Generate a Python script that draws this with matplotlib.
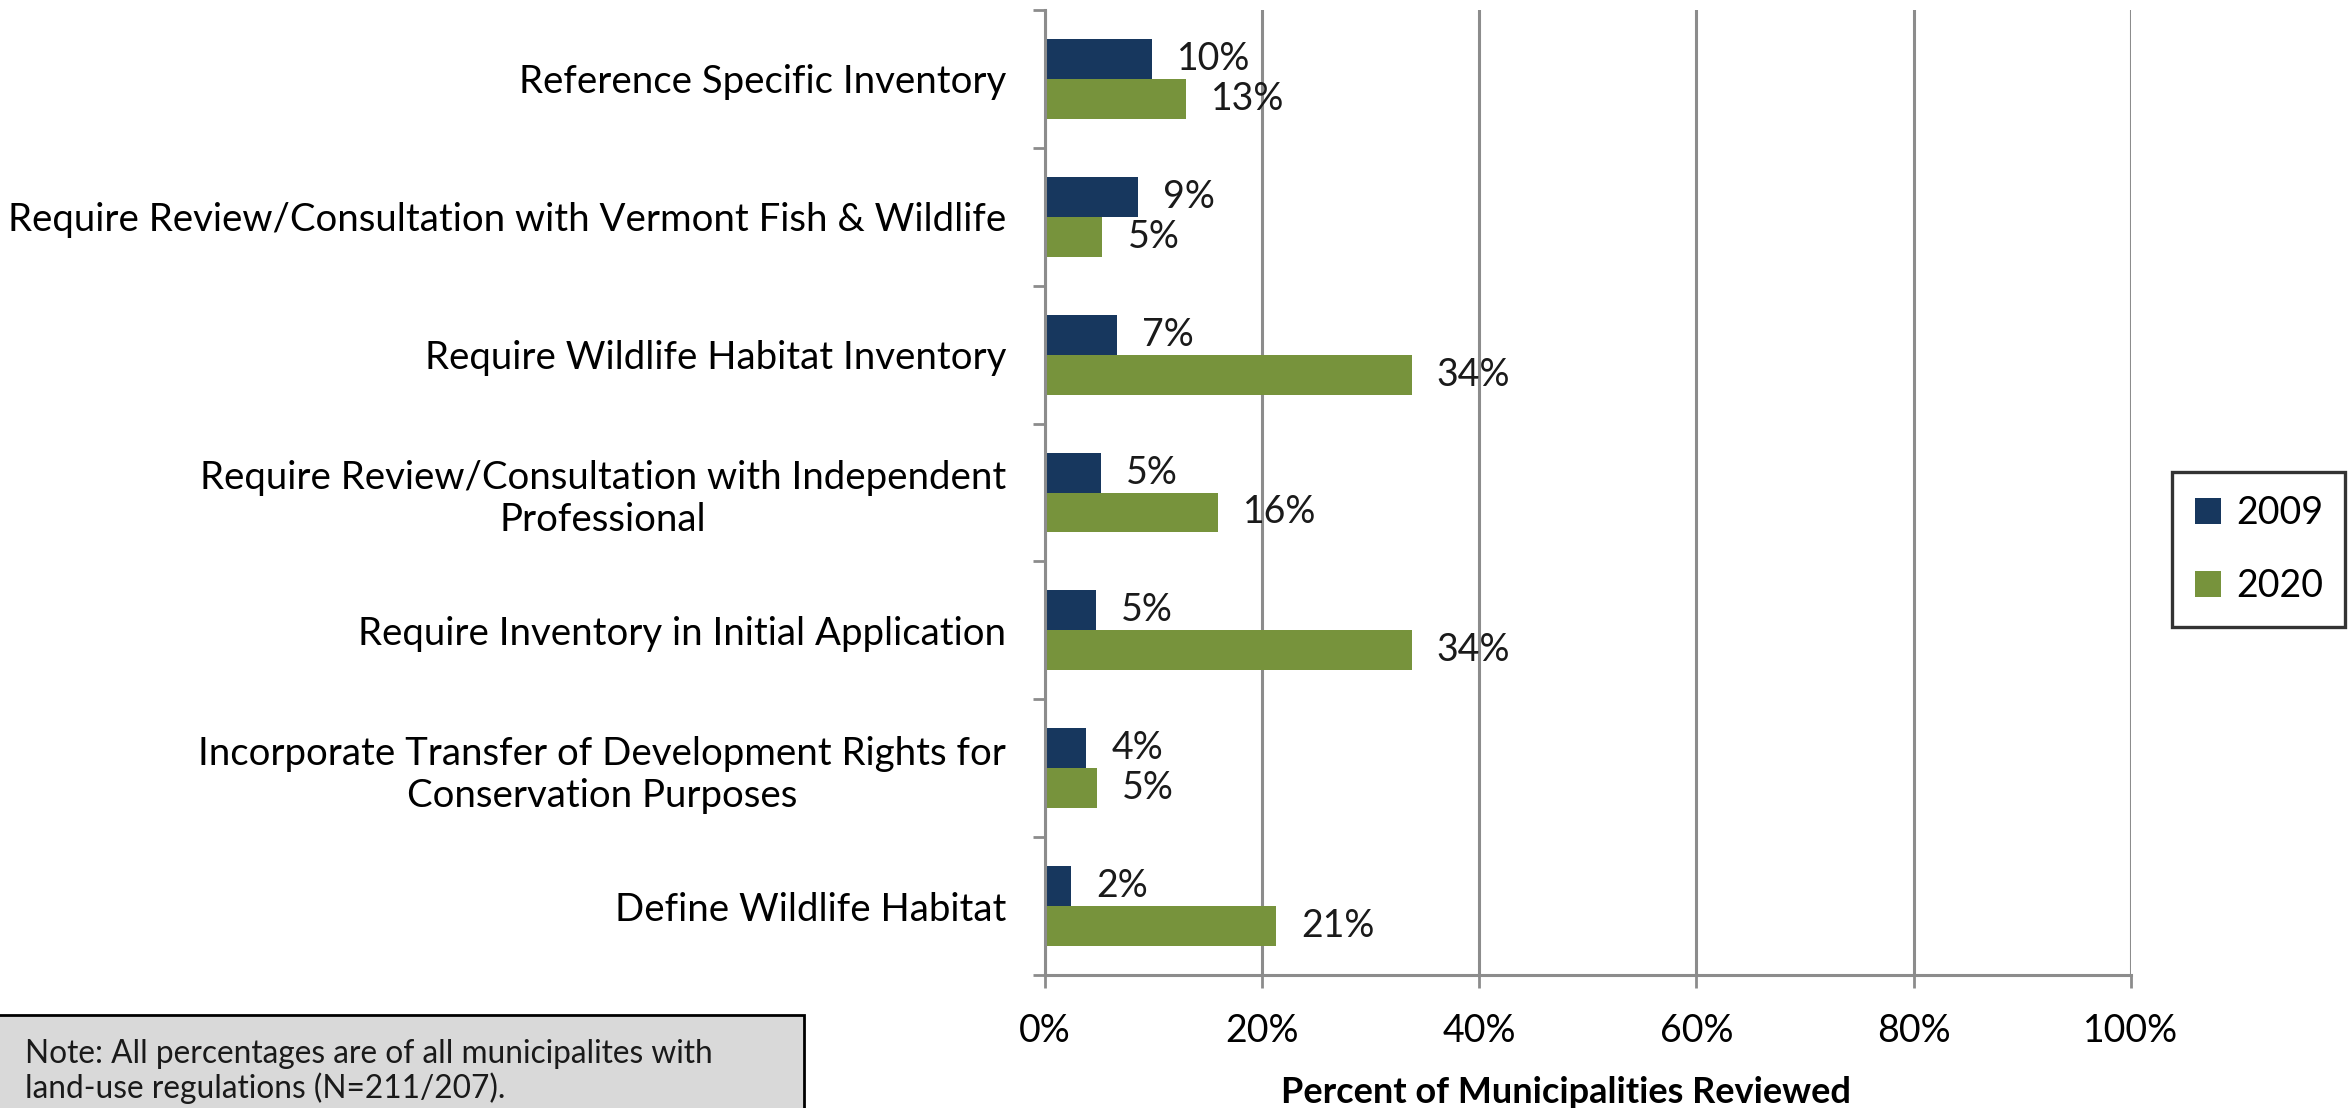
import numpy as np
import matplotlib
matplotlib.use("Agg")
import matplotlib.pyplot as plt
from matplotlib.patches import Rectangle

plt.rcParams['font.family'] = ['Lato', 'DejaVu Sans']

categories = [
    "Reference Specific Inventory",
    "Require Review/Consultation with Vermont Fish & Wildlife",
    "Require Wildlife Habitat Inventory",
    "Require Review/Consultation with Independent\nProfessional",
    "Require Inventory in Initial Application",
    "Incorporate Transfer of Development Rights for\nConservation Purposes",
    "Define Wildlife Habitat",
]
pct_2009 = [9.9, 8.6, 6.6, 5.2, 4.7, 3.8, 2.4]
pct_2020 = [13.0, 5.3, 33.8, 15.9, 33.8, 4.8, 21.3]
x_ticks = [0, 20, 40, 60, 80, 100]
note_lines = ["Note: All percentages are of all municipalites with",
              "land-use regulations (N=211/207)."]

navy = "#17375E"
green = "#77933C"
gray = "#8C8C8C"
fs = 13.5

fig = plt.figure(figsize=(11.74, 5.54), dpi=200)
ax = fig.add_axes([0.445, 0.12, 0.4625, 0.871])

y = np.arange(len(categories))
h = 0.29
b1 = ax.barh(y - h/2, pct_2009, height=h, color=navy, label="2009")
b2 = ax.barh(y + h/2, pct_2020, height=h, color=green, label="2020")
ax.bar_label(b1, fmt="{:.0f}%", padding=9, fontsize=fs, color="#1a1a1a")
ax.bar_label(b2, fmt="{:.0f}%", padding=9, fontsize=fs, color="#1a1a1a")

ax.set_xlim(0, 100)
ax.set_ylim(len(categories) - 0.5, -0.5)
ax.set_xticks(x_ticks)
ax.set_xticklabels([f"{t}%" for t in x_ticks], fontsize=fs)

# boundary ticks on the category axis, labels at centres
ax.set_yticks(np.arange(len(categories) + 1) - 0.5)
ax.set_yticklabels([])
ax.set_yticks(y, minor=True)
ax.set_yticklabels(categories, minor=True, fontsize=13.8, ha="right",
                   multialignment="center")
ax.tick_params(axis="y", which="minor", length=0, pad=14)
ax.tick_params(axis="y", which="major", length=4.5, width=1.0, color=gray)
ax.tick_params(axis="x", length=4.5, width=1.0, color=gray, pad=9)

for s in ["top", "right"]:
    ax.spines[s].set_visible(False)
for s in ["left", "bottom"]:
    ax.spines[s].set_color(gray)
    ax.spines[s].set_linewidth(1.1)

ax.grid(axis="x", color=gray, linewidth=1.1)
ax.set_axisbelow(True)

ax.set_xlabel("Percent of Municipalities Reviewed", fontsize=13,
              fontweight="bold", labelpad=10, x=0.48)

leg = fig.legend(loc="center", bbox_to_anchor=(0.962, 0.504), fontsize=fs,
                 frameon=True, fancybox=False, edgecolor="black",
                 handlelength=0.7, handleheight=0.7, handletextpad=0.4,
                 labelspacing=1.0, borderpad=0.6)
leg.get_frame().set_linewidth(1.2)

# note box at bottom left
fig.patches.append(Rectangle((-0.01, -0.1), 804/2348 + 0.01, 0.184,
                             transform=fig.transFigure, facecolor="#D9D9D9",
                             edgecolor="black", linewidth=1.0))
for yy, line in zip([0.049, 0.018], note_lines):
    fig.text(0.0105, yy, line, fontsize=11.4, va="center", ha="left",
             color="#1a1a1a")

fig.savefig("out.png", dpi=200)
